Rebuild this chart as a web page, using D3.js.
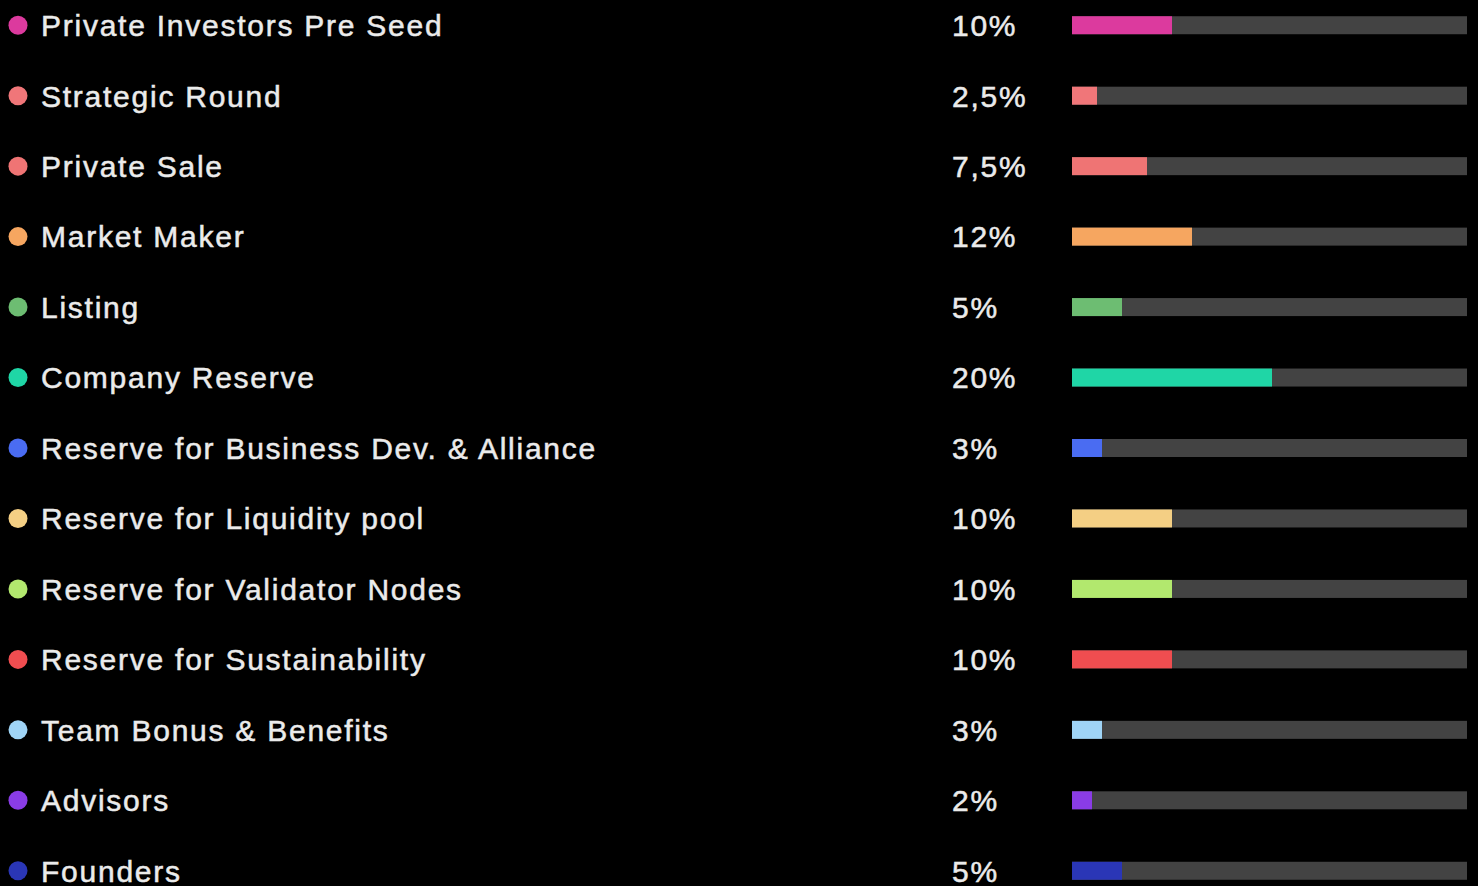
<!DOCTYPE html>
<html>
<head>
<meta charset="utf-8">
<script src="https://cdn.jsdelivr.net/npm/d3@7"></script>
<style>
  html, body { margin: 0; padding: 0; background: #000; overflow: hidden; }
  svg { display: block; }
</style>
</head>
<body>
<div id="chart"></div>
<script>
// token allocation rows
const categories = [
  "Private Investors Pre Seed", "Strategic Round", "Private Sale", "Market Maker",
  "Listing", "Company Reserve", "Reserve for Business Dev. & Alliance",
  "Reserve for Liquidity pool", "Reserve for Validator Nodes", "Reserve for Sustainability",
  "Team Bonus & Benefits", "Advisors", "Founders"
];
const shares = [10, 2.5, 7.5, 12, 5, 20, 3, 10, 10, 10, 3, 2, 5];
const shareLabels = ["10%", "2,5%", "7,5%", "12%", "5%", "20%", "3%", "10%", "10%", "10%", "3%", "2%", "5%"];
const colors = [
  "#dc3a9e", "#f07679", "#ef7474", "#f6a660", "#6dbd72", "#1fd6a6", "#4a6cf2",
  "#f4cf84", "#b2e86e", "#f04d50", "#9fd4f6", "#8a3ce6", "#2a36b6"
];

const width = 1478, height = 886;

const svg = d3.select("#chart").append("svg")
  .attr("width", width).attr("height", height);

svg.append("rect").attr("width", width).attr("height", height).attr("fill", "#000");

const yScale = d3.scaleBand()
  .domain(categories)
  .range([-10, 906])
  .paddingInner(0).paddingOuter(0);

const xScale = d3.scaleLinear()
  .domain([0, 39.5])
  .range([1072, 1467]);

const barH = 18;

const rows = svg.append("g")
  .selectAll("g")
  .data(categories)
  .enter()
  .append("g")
  .attr("transform", function (d) { return "translate(0," + (yScale(d) + yScale.bandwidth() / 2) + ")"; });

rows.append("circle")
  .attr("cx", 18).attr("cy", 0).attr("r", 9.5)
  .attr("fill", function (d, i) { return colors[i]; });

function labelStyle(sel) {
  sel.attr("y", 0).attr("dy", "0.36em")
    .attr("fill", "#ebebeb")
    .attr("stroke", "#ebebeb")
    .attr("stroke-width", 0.5)
    .style("font-family", "'Liberation Sans', Arial, sans-serif")
    .style("font-size", "30px")
    .style("letter-spacing", "1.75px");
}

rows.append("text")
  .attr("x", 41)
  .call(labelStyle)
  .text(function (d) { return d; });

rows.append("text")
  .attr("x", 952)
  .call(labelStyle)
  .text(function (d, i) { return shareLabels[i]; });

// track
rows.append("rect")
  .attr("x", xScale(0)).attr("y", -barH / 2)
  .attr("width", xScale.range()[1] - xScale(0))
  .attr("height", barH)
  .attr("fill", "#434343");

// value
rows.append("rect")
  .attr("x", xScale(0)).attr("y", -barH / 2)
  .attr("width", function (d, i) { return xScale(shares[i]) - xScale(0); })
  .attr("height", barH)
  .attr("fill", function (d, i) { return colors[i]; });
</script>
</body>
</html>
